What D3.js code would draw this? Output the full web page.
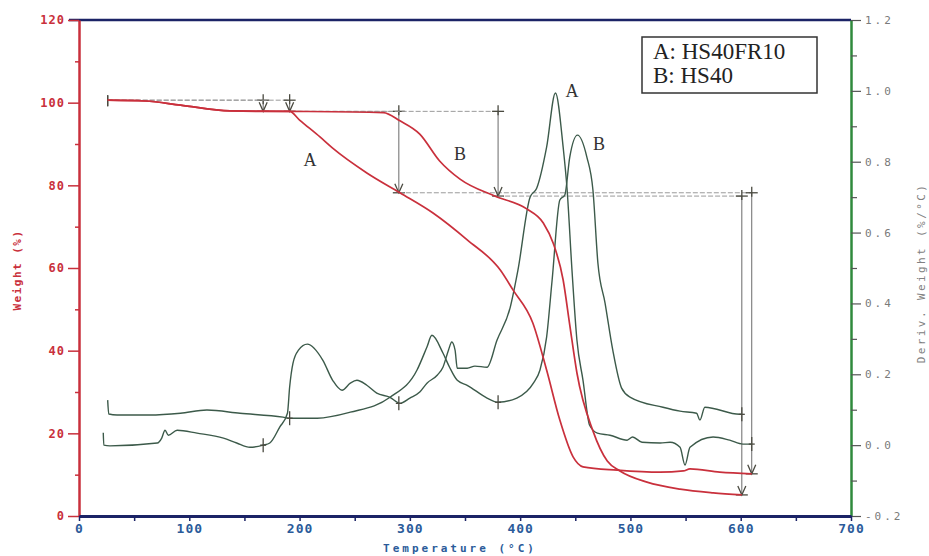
<!DOCTYPE html>
<meta charset="utf-8">
<head>
  <title>TGA / DTG - HS40FR10 vs HS40</title>
</head>

<style>
body {
  margin: 0;
  background: #fff;
}
svg {
  display: block;
}
.tick text {
  font-family: "DejaVu Sans Mono", monospace;
  font-weight: bold;
}
.step {
  stroke: #9a9a9a;
  stroke-width: 1;
  stroke-dasharray: 5,2;
  fill: none;
}
.stepv {
  stroke: #6a6a6a;
  stroke-width: 1;
  fill: none;
}
.mark {
  stroke: #4a4a40;
  stroke-width: 1.3;
  fill: none;
}
</style>

<body>
<div id="chart"></div>

<script src="https://cdnjs.cloudflare.com/ajax/libs/d3/7.8.5/d3.min.js"></script>
<script>
// weight curves (temperature in degC, weight in %)
var tempWA = [26,60,92,137,164,191,200,218.5,230,261,291,321,352,382,393.5,411.5,424,436,448,457,488,527,548,554,581,610];
var weightA = [100.6,100.4,99.4,98.0,97.9,97.9,95.8,91.7,89.0,83.0,78.2,73.3,66.8,59.5,54.7,46.7,35.3,23.2,14.3,11.9,11.1,10.6,10.9,11.4,10.6,10.2];
var tempWB = [26,60,92,137,191,276,291,309,327,345.5,377,406,421,430,439,445,451.5,466,479,490.5,515,545,575,601];
var weightB = [100.6,100.4,99.4,98.0,97.9,97.6,95.6,92.4,85.9,81.5,77.4,74.3,70.9,66.0,57.1,46.2,34.6,20.6,13.3,10.9,8.2,6.5,5.6,5.1];

// derivative curves (%/degC)
var tempDA = [22,22.5,28,71,75,78,81,89,107,131,143,155,167,173,182,189,191,194,199,207,221,230,238.5,246,252,261,270,282,291,300,309,315.5,325,330,335,338,341,343,352,359,370,379,391,398,409,415,424,432,439,442.5,447,451.5,457,463,470,481.5,497,502,510.5,527,536,545,549.5,554,575,590,602,610];
var derivA = [0.035,0.0,-0.002,0.006,0.02,0.042,0.028,0.042,0.034,0.02,0.006,-0.006,0.0,0.006,0.051,0.09,0.164,0.231,0.268,0.285,0.24,0.183,0.155,0.175,0.183,0.169,0.147,0.135,0.118,0.133,0.15,0.175,0.198,0.22,0.268,0.291,0.268,0.217,0.217,0.223,0.22,0.296,0.389,0.494,0.70,0.725,0.841,0.994,0.841,0.725,0.494,0.296,0.183,0.056,0.034,0.028,0.014,0.023,0.008,0.006,0.008,-0.006,-0.056,-0.006,0.023,0.014,0.003,0.003];
var tempDB = [26,27,34.5,64,92,116,146,185,191,216,246,282,306.5,315.5,320,330,336,343,352,370,380,397,412,418,424,429,436,440.5,445,452,460.5,466,470.5,477,484,492,500,529.5,545,560,563,567.5,599,601];
var derivB = [0.127,0.088,0.085,0.085,0.09,0.099,0.09,0.079,0.076,0.076,0.093,0.135,0.212,0.277,0.31,0.26,0.22,0.183,0.169,0.133,0.121,0.133,0.175,0.212,0.305,0.466,0.692,0.706,0.813,0.875,0.813,0.72,0.514,0.401,0.268,0.161,0.135,0.107,0.096,0.09,0.071,0.107,0.087,0.087];

// weight-step analysis: [start T, end T, start weight, end weight]
var stepsA = [[26,167,100.6,97.9],[167,290,97.9,78.2],[290,610,78.2,10.2]];
var stepsB = [[26,191,100.6,97.9],[191,380,97.9,77.4],[380,601,77.4,5.1]];
// markers on the derivative curves: [T, deriv]
var marksDA = [[167,0.0],[290,0.118],[610,0.003]];
var marksDB = [[191,0.076],[380,0.121],[601,0.087]];

// axis ticks
var tempTicks = [0,100,200,300,400,500,600,700];
var tempMinor = [50,150,250,350,450,550,650];
var weightTicks = [0,20,40,60,80,100,120];
var weightMinor = [10,30,50,70,90,110];
var derivTicks = [-0.2,0.0,0.2,0.4,0.6,0.8,1.0,1.2];
var derivMinor = [-0.1,0.1,0.3,0.5,0.7,0.9,1.1];

var legendLines = ["A: HS40FR10", "B: HS40"];

var width = 929, height = 556;
var red = "#c9303c", green = "#2f8a3c", navy = "#1b2366", curveDark = "#3c5a4a";

var svg = d3.select("#chart").append("svg")
  .attr("width", width)
  .attr("height", height);

var x = d3.scaleLinear().domain([0,700]).range([79,851]);
var yW = d3.scaleLinear().domain([0,120]).range([516,20]);
var yD = d3.scaleLinear().domain([-0.2,1.2]).range([516,20]);

// top border
svg.append("line")
  .attr("x1", x(0) - 10).attr("x2", x(700))
  .attr("y1", yW(120)).attr("y2", yW(120))
  .attr("stroke", navy).attr("stroke-width", 2.5);

// left axis (weight)
var gl = svg.append("g").attr("transform", "translate(" + x(0) + ",0)")
  .call(d3.axisLeft(yW).tickValues(weightTicks).tickSize(11).tickSizeOuter(0).tickPadding(3));
gl.select(".domain").attr("stroke", red).attr("stroke-width", 2.5);
gl.selectAll(".tick line").attr("stroke", red).attr("stroke-width", 1.5);
gl.selectAll(".tick text").attr("fill", red).style("font-size", "12px").style("letter-spacing", "1px");
var glm = svg.append("g").attr("transform", "translate(" + x(0) + ",0)")
  .call(d3.axisLeft(yW).tickValues(weightMinor).tickSize(4).tickSizeOuter(0).tickFormat(""));
glm.select(".domain").remove();
glm.selectAll(".tick line").attr("stroke", red).attr("stroke-width", 1.5);

// right axis (derivative)
var gr = svg.append("g").attr("transform", "translate(" + x(700) + ",0)")
  .call(d3.axisRight(yD).tickValues(derivTicks).tickSize(10).tickSizeOuter(0).tickPadding(4)
    .tickFormat(function(d) { return (d < 0 ? "-" : "") + Math.abs(d).toFixed(1); }));
gr.select(".domain").attr("stroke", green).attr("stroke-width", 2.5);
gr.selectAll(".tick line").attr("stroke", "#555").attr("stroke-width", 1.2);
gr.selectAll(".tick text").attr("fill", "#7a7a7a").style("font-size", "11px")
  .style("font-weight", "normal").style("letter-spacing", "3px");
var grm = svg.append("g").attr("transform", "translate(" + x(700) + ",0)")
  .call(d3.axisRight(yD).tickValues(derivMinor).tickSize(6).tickSizeOuter(0).tickFormat(""));
grm.select(".domain").remove();
grm.selectAll(".tick line").attr("stroke", "#555").attr("stroke-width", 1.2);

// bottom axis (temperature)
var gb = svg.append("g").attr("transform", "translate(0," + yW(0) + ")")
  .call(d3.axisBottom(x).tickValues(tempTicks).tickSize(5).tickSizeOuter(0).tickPadding(3));
gb.select(".domain").attr("stroke", navy).attr("stroke-width", 3);
gb.selectAll(".tick line").attr("stroke", navy).attr("stroke-width", 1.5);
gb.selectAll(".tick text").attr("fill", "#2b5b9a").style("font-size", "13px").style("letter-spacing", "1px");
var gbm = svg.append("g").attr("transform", "translate(0," + yW(0) + ")")
  .call(d3.axisBottom(x).tickValues(tempMinor).tickSize(5).tickSizeOuter(0).tickFormat(""));
gbm.select(".domain").remove();
gbm.selectAll(".tick line").attr("stroke", navy).attr("stroke-width", 1.5);

// axis titles
svg.append("text")
  .attr("transform", "translate(21,270) rotate(-90)")
  .attr("text-anchor", "middle")
  .style("font-family", "DejaVu Sans Mono, monospace").style("font-weight", "bold")
  .style("font-size", "11px").style("letter-spacing", "1.5px")
  .attr("fill", red)
  .text("Weight (%)");
svg.append("text")
  .attr("transform", "translate(925,273) rotate(-90)")
  .attr("text-anchor", "middle")
  .style("font-family", "DejaVu Sans Mono, monospace")
  .style("font-size", "11px").style("letter-spacing", "2.4px")
  .attr("fill", "#808080")
  .text("Deriv. Weight (%/°C)");
svg.append("text")
  .attr("x", 460).attr("y", 552)
  .attr("text-anchor", "middle")
  .style("font-family", "DejaVu Sans Mono, monospace").style("font-weight", "bold")
  .style("font-size", "11px").style("letter-spacing", "3px")
  .attr("fill", "#2b5b9a")
  .text("Temperature (°C)");

// step annotations
function drawSteps(steps) {
  var g = svg.append("g");
  steps.forEach(function(s, i) {
    var xa = x(s[0]), xb = x(s[1]), yt = yW(s[2]), yb = yW(s[3]);
    g.append("line").attr("class", "step")
      .attr("x1", xa).attr("x2", xb).attr("y1", yt).attr("y2", yt);
    g.append("line").attr("class", "stepv")
      .attr("x1", xb).attr("x2", xb).attr("y1", yt).attr("y2", yb);
    if (i === 0) {
      g.append("line").attr("class", "mark")
        .attr("x1", xa).attr("x2", xa).attr("y1", yt - 5).attr("y2", yt + 6);
    }
    // top cross
    g.append("line").attr("class", "mark")
      .attr("x1", xb - 6).attr("x2", xb + 6).attr("y1", yt).attr("y2", yt);
    g.append("line").attr("class", "mark")
      .attr("x1", xb).attr("x2", xb).attr("y1", yt - 6).attr("y2", yt + 4);
    // arrow head and bar at the bottom
    g.append("path").attr("class", "mark")
      .attr("d", "M" + (xb - 4) + "," + (yb - 9) + "L" + xb + "," + yb + "L" + (xb + 4) + "," + (yb - 9));
    g.append("line").attr("class", "mark")
      .attr("x1", xb - 6).attr("x2", xb + 6).attr("y1", yb).attr("y2", yb);
  });
}
drawSteps(stepsA);
drawSteps(stepsB);

// curves
function series(ts, vs) {
  return ts.map(function(t, i) { return [t, vs[i]]; });
}
var lineW = d3.line().x(function(d) { return x(d[0]); }).y(function(d) { return yW(d[1]); }).curve(d3.curveMonotoneX);
var lineD = d3.line().x(function(d) { return x(d[0]); }).y(function(d) { return yD(d[1]); }).curve(d3.curveMonotoneX);

svg.append("path").datum(series(tempDB, derivB))
  .attr("d", lineD).attr("fill", "none").attr("stroke", curveDark).attr("stroke-width", 1.4);
svg.append("path").datum(series(tempDA, derivA))
  .attr("d", lineD).attr("fill", "none").attr("stroke", curveDark).attr("stroke-width", 1.4);
svg.append("path").datum(series(tempWB, weightB))
  .attr("d", lineW).attr("fill", "none").attr("stroke", red).attr("stroke-width", 1.7);
svg.append("path").datum(series(tempWA, weightA))
  .attr("d", lineW).attr("fill", "none").attr("stroke", red).attr("stroke-width", 1.7);

// markers on derivative curves
function drawMarks(marks) {
  marks.forEach(function(m) {
    var mx = x(m[0]), my = yD(m[1]);
    svg.append("line").attr("class", "mark")
      .attr("x1", mx).attr("x2", mx).attr("y1", my - 7).attr("y2", my + 7);
    svg.append("line").attr("class", "mark")
      .attr("x1", mx - 3).attr("x2", mx + 3).attr("y1", my).attr("y2", my);
  });
}
drawMarks(marksDA);
drawMarks(marksDB);

// curve letters
var serif = "Liberation Serif, Times New Roman, serif";
function letter(t, px, py) {
  svg.append("text").attr("x", px).attr("y", py)
    .attr("text-anchor", "middle")
    .style("font-family", serif).style("font-size", "18px")
    .attr("fill", "#333")
    .text(t);
}
letter("A", x(209.5), yW(84.7));
letter("B", x(345.5), yW(86.1));
letter("A", x(447), yD(0.982));
letter("B", x(471.5), yD(0.833));

// legend box
svg.append("rect")
  .attr("x", 642).attr("y", 37).attr("width", 175).attr("height", 56)
  .attr("fill", "#fff").attr("stroke", "#333").attr("stroke-width", 1.5);
svg.selectAll(".legend")
  .data(legendLines)
  .enter()
  .append("text")
  .attr("class", "legend")
  .attr("x", 653)
  .attr("y", function(d, i) { return 59 + i * 24; })
  .style("font-family", serif).style("font-size", "23px")
  .attr("fill", "#222")
  .text(function(d) { return d; });
</script>
</body>
</html>
